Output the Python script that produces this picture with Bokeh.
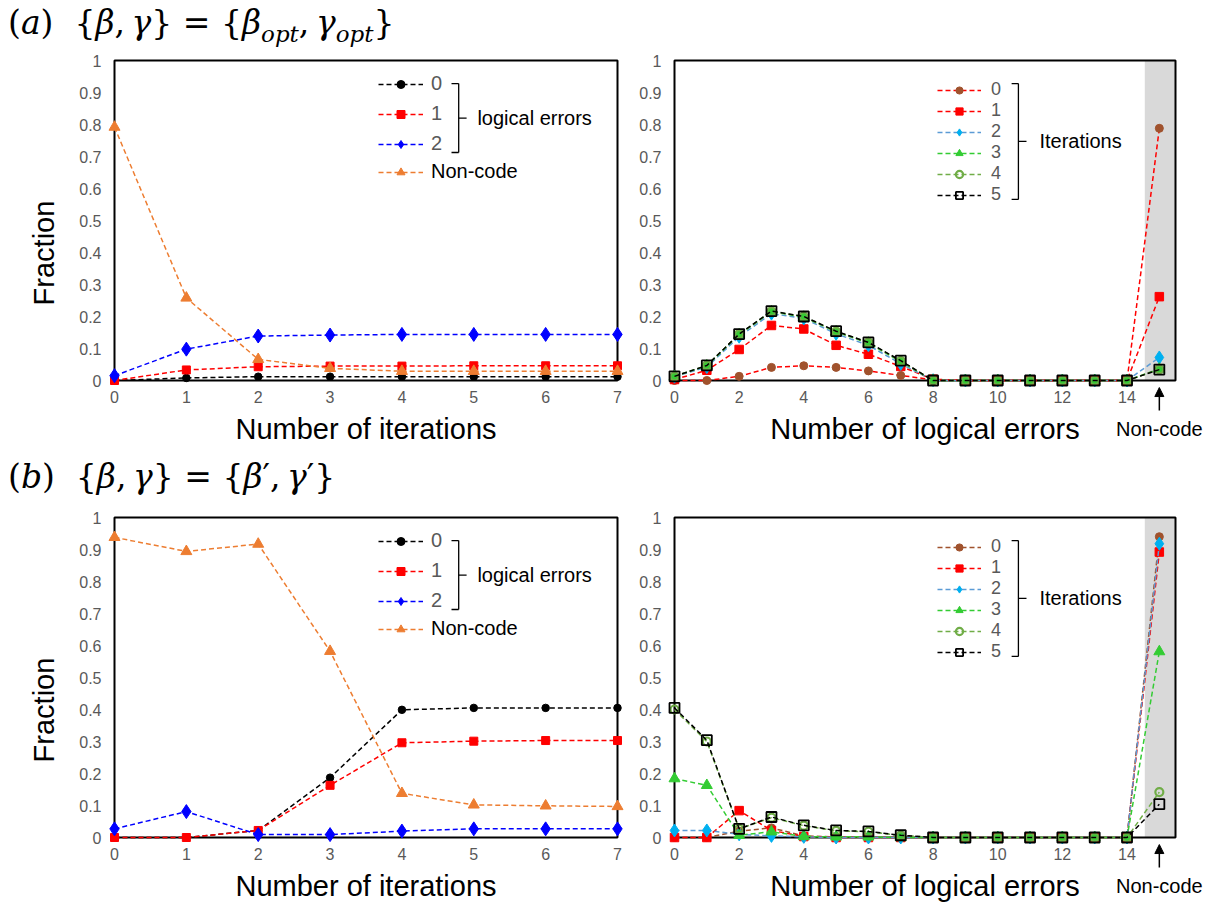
from bokeh.plotting import figure
from bokeh.layouts import column, row
from bokeh.models import (Div, Legend, LegendItem, Label, Arrow, NormalHead,
                          BoxAnnotation, FixedTicker, PrintfTickFormatter)
from bokeh.embed import file_html
from bokeh.resources import INLINE

# ---------------- data ----------------
iterations = [0, 1, 2, 3, 4, 5, 6, 7]
# (a) fraction vs number of iterations
a_le0 = [0.000, 0.008, 0.012, 0.012, 0.012, 0.012, 0.012, 0.012]
a_le1 = [0.000, 0.033, 0.043, 0.045, 0.045, 0.046, 0.046, 0.046]
a_le2 = [0.015, 0.098, 0.139, 0.142, 0.144, 0.144, 0.144, 0.144]
a_nc = [0.792, 0.258, 0.066, 0.038, 0.029, 0.029, 0.029, 0.029]
# (b) fraction vs number of iterations
b_le0 = [0.000, 0.000, 0.022, 0.187, 0.399, 0.405, 0.405, 0.405]
b_le1 = [0.000, 0.000, 0.022, 0.163, 0.296, 0.301, 0.303, 0.303]
b_le2 = [0.027, 0.081, 0.009, 0.009, 0.020, 0.027, 0.027, 0.027]
b_nc = [0.938, 0.894, 0.917, 0.582, 0.138, 0.102, 0.099, 0.097]

# number of logical errors 0..14, last position = Non-code
errors = [0, 1, 2, 3, 4, 5, 6, 7, 8, 9, 10, 11, 12, 13, 14, 15]
noncode_pos = 15
a_it0 = [0.000, 0.000, 0.013, 0.041, 0.046, 0.041, 0.030, 0.016, 0.002, 0, 0, 0, 0, 0, 0, 0.788]
a_it1 = [0.003, 0.032, 0.097, 0.172, 0.161, 0.110, 0.082, 0.044, 0.004, 0, 0, 0, 0, 0, 0, 0.262]
a_it2 = [0.012, 0.042, 0.137, 0.209, 0.194, 0.146, 0.110, 0.052, 0.001, 0, 0, 0, 0, 0, 0, 0.072]
a_it3 = [0.013, 0.046, 0.143, 0.215, 0.198, 0.152, 0.117, 0.059, 0.000, 0, 0, 0, 0, 0, 0, 0.036]
a_it4 = [0.013, 0.047, 0.145, 0.216, 0.200, 0.153, 0.119, 0.061, 0.000, 0, 0, 0, 0, 0, 0, 0.035]
a_it5 = [0.013, 0.047, 0.145, 0.217, 0.200, 0.154, 0.119, 0.062, 0.000, 0, 0, 0, 0, 0, 0, 0.034]

b_it0 = [0.000, 0.000, 0.020, 0.030, 0.005, 0.002, 0.000, 0.000, 0, 0, 0, 0, 0, 0, 0, 0.940]
b_it1 = [0.000, 0.000, 0.084, 0.022, 0.003, 0.000, 0.000, 0.000, 0, 0, 0, 0, 0, 0, 0, 0.892]
b_it2 = [0.022, 0.022, 0.010, 0.005, 0.002, 0.000, 0.000, 0.000, 0, 0, 0, 0, 0, 0, 0, 0.918]
b_it3 = [0.184, 0.163, 0.007, 0.018, 0.003, 0.002, 0.002, 0.000, 0, 0, 0, 0, 0, 0, 0, 0.581]
b_it4 = [0.400, 0.300, 0.027, 0.062, 0.037, 0.021, 0.018, 0.006, 0, 0, 0, 0, 0, 0, 0, 0.142]
b_it5 = [0.405, 0.304, 0.027, 0.064, 0.038, 0.022, 0.019, 0.007, 0, 0, 0, 0, 0, 0, 0, 0.104]

left_xticks = [0, 1, 2, 3, 4, 5, 6, 7]
right_xticks = [0, 2, 4, 6, 8, 10, 12, 14]
y_ticks = [0, 0.1, 0.2, 0.3, 0.4, 0.5, 0.6, 0.7, 0.8, 0.9, 1]
le_labels = ["0", "1", "2"]
it_labels = ["0", "1", "2", "3", "4", "5"]

# ---------------- styling ----------------
FONT = "Liberation Sans"
GREY_TXT = "#595959"
BLACK = "#000000"
RED = "#ff0000"
BLUE = "#0000ff"
ORANGE = "#ed7d31"
BROWN = "#a0522d"
LBLUE_M = "#00b0f0"
LBLUE_L = "#5b9bd5"
GREEN = "#33cc33"
OLIVE = "#70ad47"
DASH = "5 3"
PX_UNIT = 320          # pixels for a fraction of 1
EXTRA = 68             # room below y = 0 for the axis texts
TOP_PAD = 3            # room above y = 1 so the frame line is not cut
Y_LOW = -EXTRA / PX_UNIT
Y_HIGH = 1 + TOP_PAD / PX_UNIT


def base_fig(xmax, xticks, plot_w, pad_l, pad_r, bl, br, xlabel=None, ylabel=None, bt=7, bb=0):
    unit = plot_w / xmax
    p = figure(frame_width=plot_w + pad_l + pad_r, frame_height=PX_UNIT + EXTRA + TOP_PAD,
               x_range=(-pad_l / unit, xmax + pad_r / unit), y_range=(Y_LOW, Y_HIGH),
               output_backend="svg", toolbar_location=None,
               min_border_left=bl, min_border_right=br, min_border_top=bt, min_border_bottom=bb)
    p.xgrid.visible = False
    p.ygrid.visible = False
    p.outline_line_color = None
    p.background_fill_color = "white"
    p.border_fill_color = "white"
    for ax in (p.xaxis[0], p.yaxis[0]):
        ax.major_tick_line_color = None
        ax.minor_tick_line_color = None
        ax.major_tick_out = 0
        ax.major_tick_in = 0
        ax.minor_tick_out = 0
        ax.minor_tick_in = 0
        ax.axis_line_color = None
        ax.major_label_text_font = FONT
        ax.major_label_text_font_size = "16px"
        ax.major_label_text_color = GREY_TXT
        ax.axis_label_text_font = FONT
        ax.axis_label_text_font_size = "29px"
        ax.axis_label_text_font_style = "normal"
        ax.axis_label_text_color = "black"
    p.xaxis[0].fixed_location = 0
    p.xaxis[0].ticker = FixedTicker(ticks=xticks)
    p.yaxis[0].ticker = FixedTicker(ticks=y_ticks)
    p.yaxis[0].formatter = PrintfTickFormatter(format="%g")
    p.yaxis[0].major_label_standoff = 5
    p.xaxis[0].major_label_standoff = 10
    if xlabel:
        p.xaxis[0].axis_label = xlabel
        p.xaxis[0].axis_label_standoff = 7
    if ylabel:
        p.yaxis[0].axis_label = ylabel
        p.yaxis[0].axis_label_standoff = 16
    return p


def add_frame(p, xmax):
    p.add_layout(BoxAnnotation(left=0, right=xmax, bottom=0, top=1, fill_alpha=0,
                               line_color="black", line_alpha=1, line_width=2,
                               level="underlay"))


def series(p, x, y, lcolor, marker, size, fill, mline, mlw=1.0):
    l = p.line(x, y, line_color=lcolor, line_dash=DASH, line_width=1.5)
    s = p.scatter(x, y, marker=marker, size=size, fill_color=fill, line_color=mline,
                  line_width=mlw)
    return [l, s]


def add_legend(p, items, loc, color, gh, spacing, gw, standoff, fsize):
    lg = Legend(items=items, location=loc, orientation="vertical",
                background_fill_alpha=0, border_line_color=None, padding=0, margin=0,
                spacing=spacing, glyph_width=gw, glyph_height=gh, label_height=gh,
                label_standoff=standoff, label_text_font=FONT, label_text_font_size=fsize,
                label_text_color=color, label_text_baseline="middle")
    p.add_layout(lg, "center")


def add_brace(p, x_hook, x_bar, x_tip, y_top, y_bot, y_mid, text, x_text):
    segs = [(x_hook, y_top, x_bar, y_top), (x_bar, y_top, x_bar, y_bot),
            (x_hook, y_bot, x_bar, y_bot), (x_bar, y_mid, x_tip, y_mid)]
    for (x0, y0, x1, y1) in segs:
        p.add_layout(Arrow(end=None, x_start=x0, y_start=y0, x_end=x1, y_end=y1,
                           line_color="black", line_width=1.3))
    p.add_layout(Label(x=x_text, y=y_mid, text=text, text_font=FONT, text_font_size="20px",
                       text_color="black", text_baseline="middle", text_align="left"))


LP_L, LP_R = 8, 8      # left panel: extra frame room beside x = 0 and x = 7
RP_L, RP_R = 8, 32     # right panel: extra room beside x = 0 and right edge


def left_panel(le0, le1, le2, nc):
    p = base_fig(7, left_xticks, 503, LP_L, LP_R, 114 - LP_L, 0,
                 "Number of iterations", "Fraction")
    add_frame(p, 7)
    r0 = series(p, iterations, le0, BLACK, "circle", 7.5, BLACK, BLACK)
    r1 = series(p, iterations, le1, RED, "square", 8, RED, RED)
    r2 = series(p, iterations, le2, BLUE, "diamond", 14, BLUE, BLUE)
    r3 = series(p, iterations, nc, ORANGE, "triangle", 11, ORANGE, ORANGE)
    add_legend(p, [LegendItem(label=le_labels[0], renderers=r0),
                   LegendItem(label=le_labels[1], renderers=r1),
                   LegendItem(label=le_labels[2], renderers=r2)],
               (264 + LP_L, 225 + EXTRA), GREY_TXT, 20, 7, 45, 8, "20px")
    add_legend(p, [LegendItem(label="Non-code", renderers=r3)],
               (264 + LP_L, 197 + EXTRA), "black", 20, 0, 45, 8, "20px")
    add_brace(p, 4.69, 4.79, 4.90, 0.928, 0.7125, 0.82, "logical errors", 5.05)
    return p


def right_panel(its, line0_color):
    p = base_fig(15.5, right_xticks, 501, RP_L, RP_R, 41, 20)
    p.add_layout(BoxAnnotation(left=14.55, right=15.5, bottom=0, top=1, fill_color="#d9d9d9",
                               fill_alpha=1, line_color=None, level="underlay"))
    add_frame(p, 15.5)
    rs = []
    rs.append(series(p, errors, its[0], line0_color, "circle", 8, BROWN, BROWN))
    rs.append(series(p, errors, its[1], RED, "square", 8.5, RED, RED))
    rs.append(series(p, errors, its[2], LBLUE_L, "diamond", 13, LBLUE_M, LBLUE_M))
    rs.append(series(p, errors, its[3], GREEN, "triangle", 11, GREEN, GREEN))
    rs.append(series(p, errors, its[4], OLIVE, "circle", 8, None, OLIVE, mlw=2.2))
    rs.append(series(p, errors, its[5], BLACK, "square", 10, None, BLACK, mlw=1.8))
    add_legend(p, [LegendItem(label=it_labels[i], renderers=rs[i]) for i in range(6)],
               (263 + RP_L, 175 + EXTRA), GREY_TXT, 18, 0, 44, 10, "18px")
    add_brace(p, 10.43, 10.64, 10.89, 0.928, 0.566, 0.747, "Iterations", 11.29)
    p.add_layout(Arrow(end=NormalHead(size=9, fill_color="black", line_color="black"),
                       x_start=noncode_pos, y_start=-0.094, x_end=noncode_pos, y_end=-0.022,
                       line_color="black", line_width=1.5))
    p.add_layout(Label(x=noncode_pos, y=-0.15, text="Non-code", text_font=FONT,
                       text_font_size="20px", text_color="black", text_align="center",
                       text_baseline="middle"))
    # axis title centred on the 0..15.5 plotting box
    p.add_layout(Label(x=7.75, y=-0.15, text="Number of logical errors", text_font=FONT,
                       text_font_size="29px", text_color="black", text_align="center",
                       text_baseline="middle"))
    return p


def title_div(html, h, pad_top):
    return Div(text=('<div style="font-family:\'DejaVu Serif\',serif; font-size:33px; '
                     'color:black; white-space:nowrap; line-height:1; padding-left:8px; '
                     'padding-top:%dpx;">%s</div>' % (pad_top, html)),
               width=1227, height=h, margin=0)


SUB = '<sub style="font-size:23px"><i>opt</i></sub>'
title_a = title_div('(<i>a</i>)&nbsp;&nbsp;{<i>β</i>,&thinsp;<i>γ</i>} = {<i>β</i>' + SUB +
                    ',&thinsp;<i>γ</i>' + SUB + '}', 50, 6)
title_b = title_div('(<i>b</i>)&nbsp;&nbsp;{<i>β</i>,&thinsp;<i>γ</i>} = {<i>β</i>′,&thinsp;<i>γ</i>′}',
                    59, 12)

p1 = left_panel(a_le0, a_le1, a_le2, a_nc)
p2 = right_panel([a_it0, a_it1, a_it2, a_it3, a_it4, a_it5], RED)
p3 = left_panel(b_le0, b_le1, b_le2, b_nc)
p4 = right_panel([b_it0, b_it1, b_it2, b_it3, b_it4, b_it5], BROWN)
p3.min_border_bottom = 2
p4.min_border_bottom = 2

layout = column(title_a, row(p1, p2), title_b, row(p3, p4))

open("out.html", "w").write(file_html(layout, INLINE))
